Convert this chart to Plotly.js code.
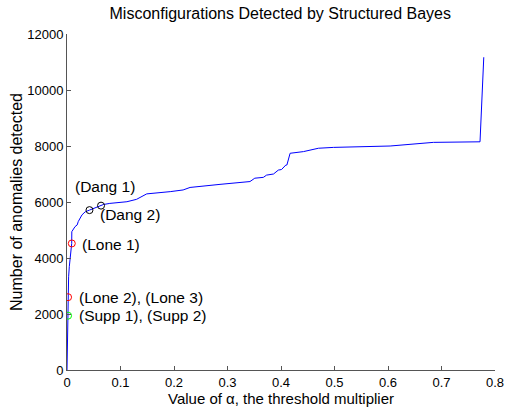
<!DOCTYPE html>
<html><head><meta charset="utf-8">
<script src="https://cdn.plot.ly/plotly-3.0.1.min.js"></script>
<style>html,body{margin:0;padding:0;background:#fff}#chart{width:505px;height:407px}</style>
</head><body><div id="chart"></div>
<script>
var curveX = [0, 0.0005, 0.001, 0.002, 0.003, 0.0043, 0.0056, 0.0088, 0.009, 0.015, 0.019, 0.021, 0.028, 0.034, 0.042, 0.0636, 0.068, 0.080, 0.112, 0.130, 0.140, 0.149, 0.193, 0.217, 0.230, 0.261, 0.286, 0.342, 0.351, 0.367, 0.373, 0.386, 0.395, 0.401, 0.409, 0.411, 0.417, 0.442, 0.470, 0.498, 0.604, 0.685, 0.772, 0.779];
var curveY = [0, 1000, 1940, 2600, 3330, 3690, 4010, 4520, 4940, 5120, 5180, 5300, 5540, 5650, 5710, 5870, 5910, 5950, 6010, 6095, 6200, 6290, 6370, 6430, 6520, 6570, 6630, 6730, 6850, 6880, 6960, 7000, 7140, 7160, 7320, 7320, 7740, 7800, 7920, 7950, 8000, 8130, 8150, 11170];
var suppX = [0.002], suppY = [1940];
var loneX = [0.002, 0.009], loneY = [2600, 4520];
var dangX = [0.042, 0.0636], dangY = [5710, 5870];
var labelText = ["(Dang 1)", "(Dang 2)", "(Lone 1)", "(Lone 2), (Lone 3)", "(Supp 1), (Supp 2)"];
var labelX = [0.011, 0.058, 0.024, 0.019, 0.019];
var labelY = [6540, 5540, 4500, 2600, 1940];
var xTicks = [0, 0.1, 0.2, 0.3, 0.4, 0.5, 0.6, 0.7, 0.8];
var yTicks = [0, 2000, 4000, 6000, 8000, 10000, 12000];

var FONT = 'Liberation Sans, Arial, sans-serif';
var mk = function(c){return {symbol:'circle-open', size:7, color:c, line:{width:1, color:c}};};
var traces = [
  {x:curveX, y:curveY, mode:'lines', line:{color:'#0000ff', width:1}, hoverinfo:'skip'},
  {x:suppX, y:suppY, mode:'markers', marker:mk('#00ff00')},
  {x:loneX, y:loneY, mode:'markers', marker:mk('#ff0000')},
  {x:dangX, y:dangY, mode:'markers', marker:mk('#000000')}
];
var ann = labelText.map(function(t,i){
  return {x:labelX[i], y:labelY[i], text:t, showarrow:false, xanchor:'left', yanchor:'middle',
    font:{family:FONT, size:15.5, color:'#000'}};
});
var axisCommon = {showgrid:false, zeroline:false, showline:true, linecolor:'#555', linewidth:1,
  ticks:'inside', ticklen:4, tickcolor:'#555', tickfont:{family:FONT, size:13, color:'#000'}};
var layout = {
  width:505, height:407, showlegend:false,
  paper_bgcolor:'#fff', plot_bgcolor:'#fff',
  margin:{l:67, r:10, t:34, b:37},
  font:{family:FONT, color:'#000'},
  title:{text:'Misconfigurations Detected by Structured Bayes', font:{size:16, color:'#000'}, x:0.555, xanchor:'center', y:0.968, yanchor:'middle'},
  xaxis:Object.assign({}, axisCommon, {range:[0,0.8], tickvals:xTicks, ticktext:xTicks.map(String),
    title:{text:'Value of α, the threshold multiplier', font:{size:15}, standoff:0}}),
  yaxis:Object.assign({}, axisCommon, {range:[0,12000], tickvals:yTicks, ticktext:yTicks.map(String),
    title:{text:'Number of anomalies detected', font:{size:16}, standoff:0}}),
  annotations:ann
};
Plotly.newPlot('chart', traces, layout, {displayModeBar:false, staticPlot:true});
</script></body></html>
